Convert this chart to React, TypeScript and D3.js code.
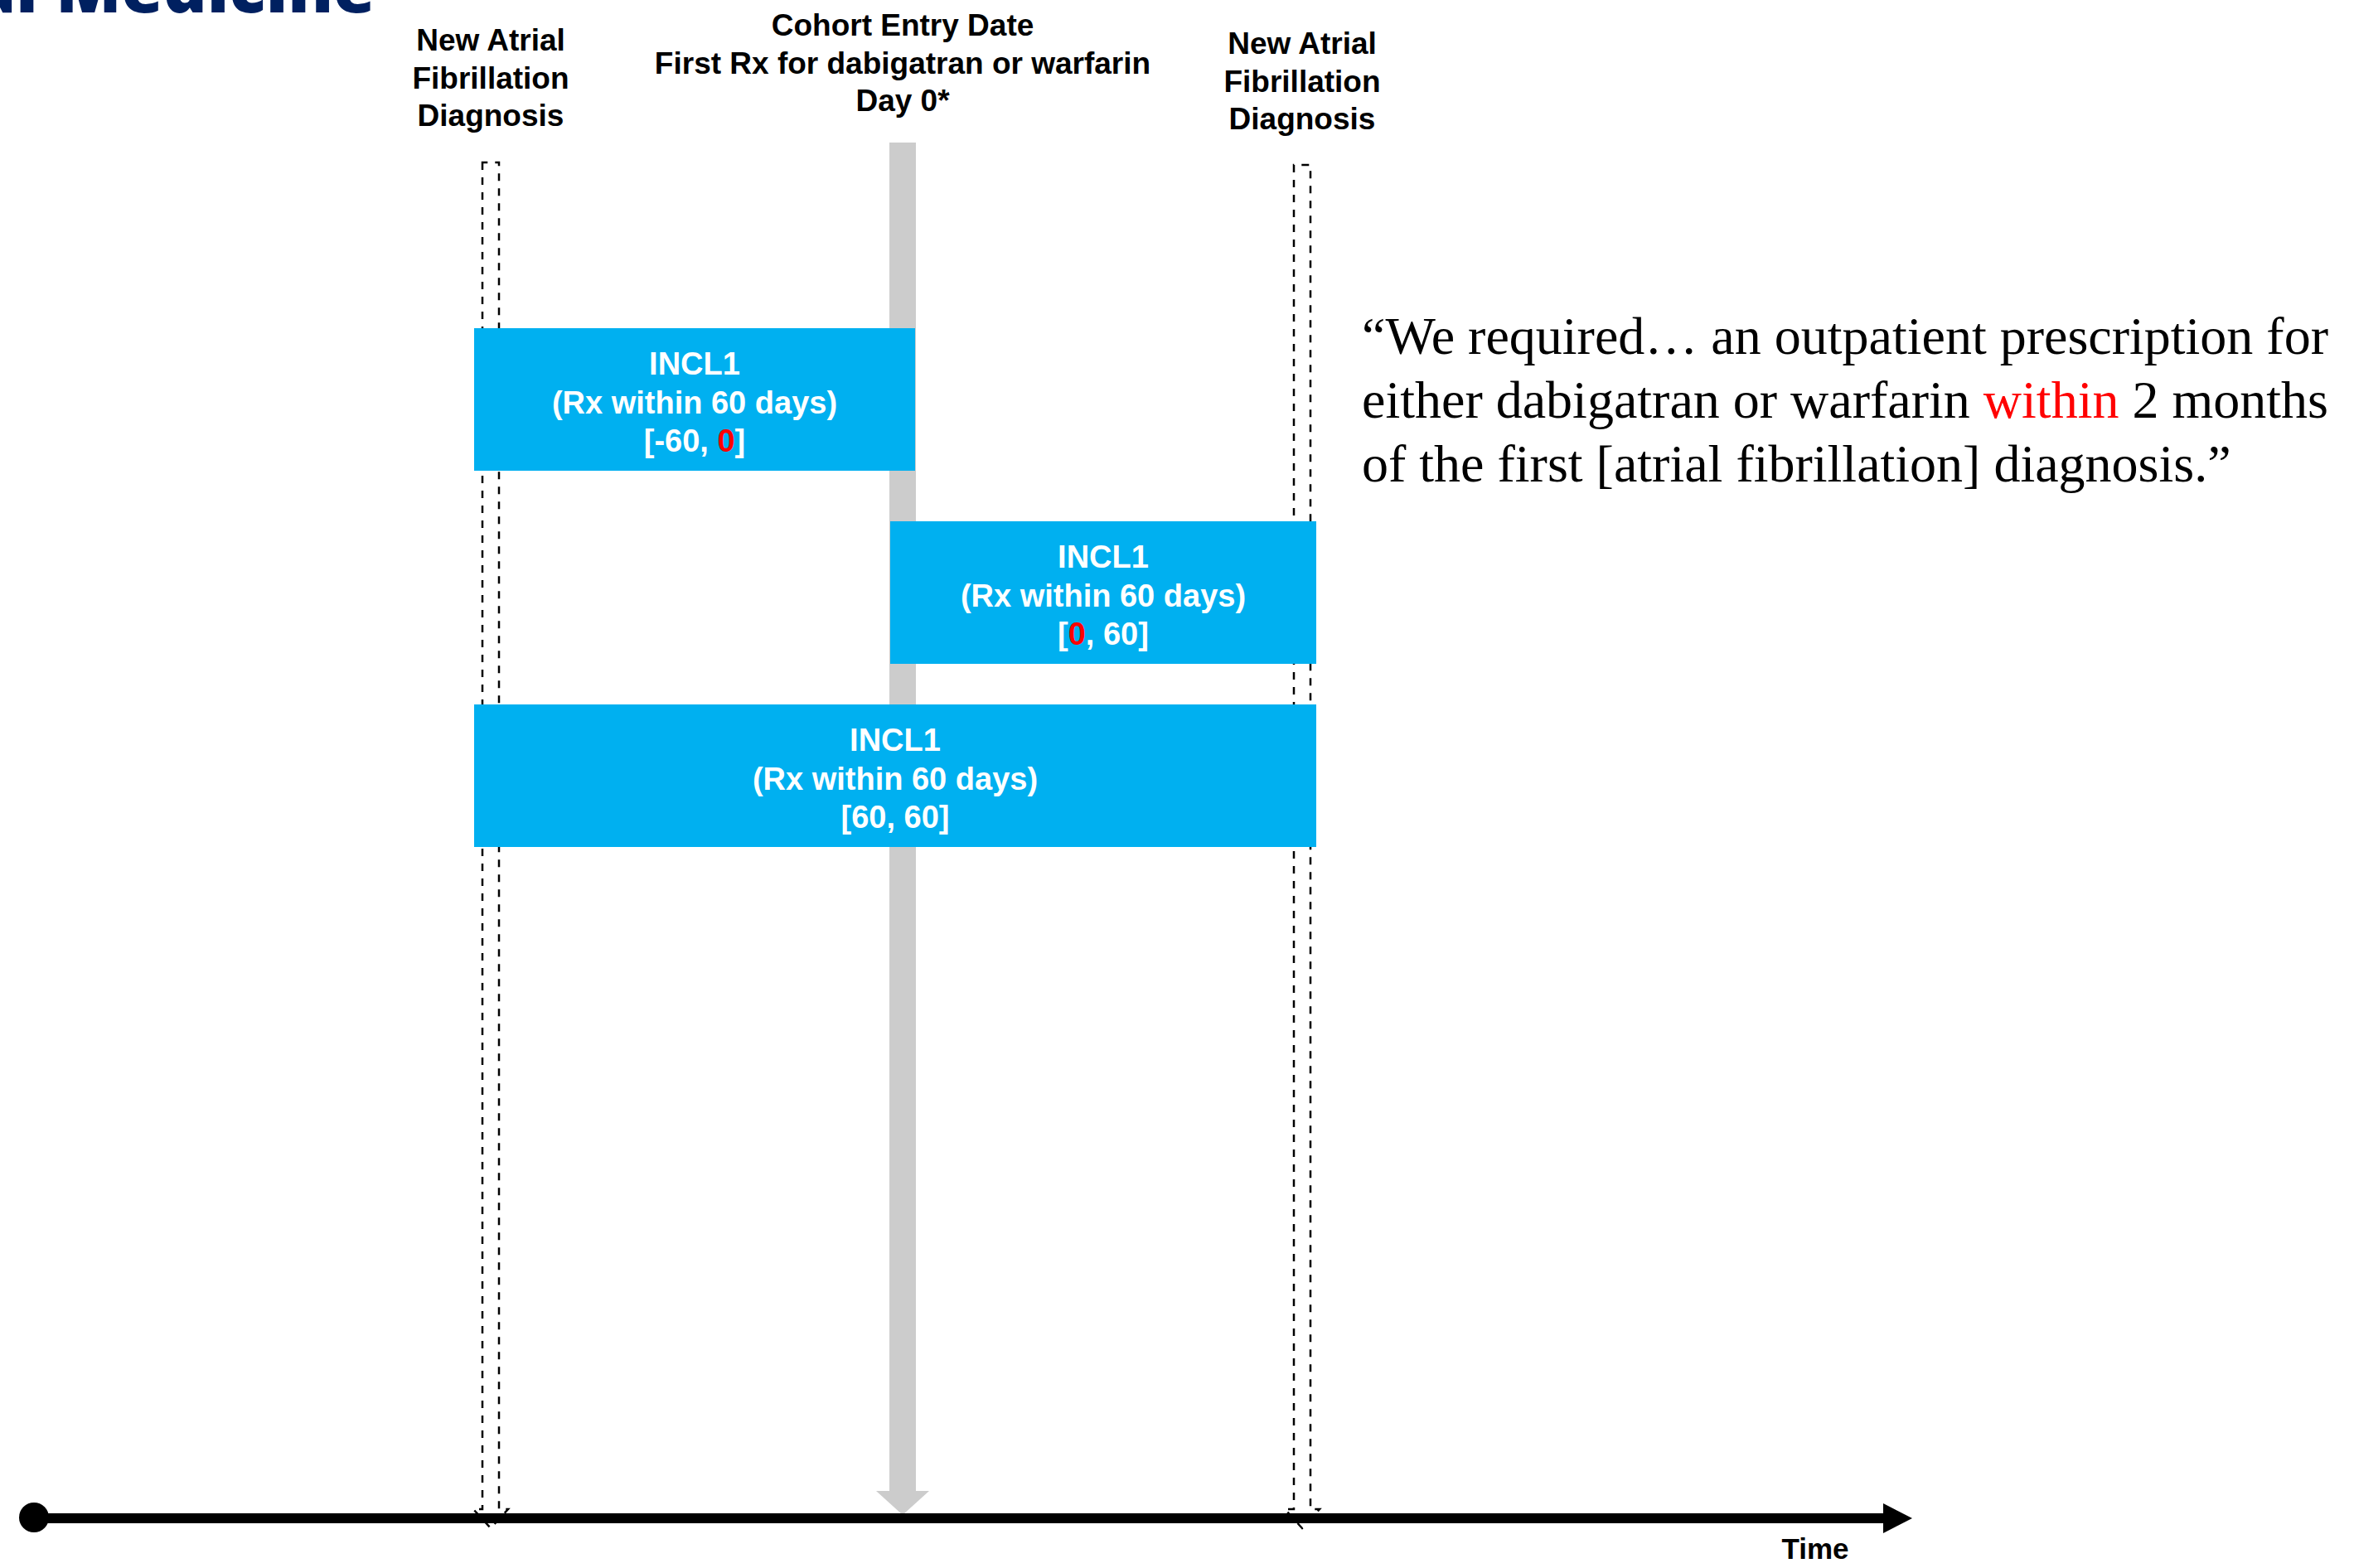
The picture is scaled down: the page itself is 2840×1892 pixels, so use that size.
import React, { useEffect } from "react";
import * as d3 from "d3";

// ---------- data ----------
const markerDays = [-60, 0, 60];
const markerKinds = ["diagnosis", "entry", "diagnosis"];
const markerLabels = [
  ["New Atrial", "Fibrillation", "Diagnosis"],
  ["Cohort Entry Date", "First Rx for dabigatran or warfarin", "Day 0*"],
  ["New Atrial", "Fibrillation", "Diagnosis"],
];

const windowStarts = [-60, 0, -60];
const windowEnds = [0, 60, 60];
const windowTitles = ["INCL1", "INCL1", "INCL1"];
const windowSubtitles = ["(Rx within 60 days)", "(Rx within 60 days)", "(Rx within 60 days)"];
const windowBounds = [
  ["-60", "0"],
  ["0", "60"],
  ["60", "60"],
];
const windowHighlight = [1, 0, -1];

const quoteLines = [
  [{ t: "\u201CWe required\u2026 an outpatient prescription for", red: false }],
  [
    { t: "either dabigatran or warfarin ", red: false },
    { t: "within", red: true },
    { t: " 2 months", red: false },
  ],
  [{ t: "of the first [atrial fibrillation] diagnosis.\u201D", red: false }],
];

const axisLabel = "Time";
const headerFragment = "JAMA Internal Medicine";

// ---------- layout ----------
const W = 2840;
const H = 1892;
const BLUE = "#00B0F0";
const GRAY = "#CCCCCC";
const RED = "#FF0000";
const NAVY = "#002060";
const SANS = "'Liberation Sans', Arial, sans-serif";
const SERIF = "'Liberation Serif', 'Times New Roman', serif";

export default function App() {
  useEffect(() => {
    document.body.style.margin = "0";
  }, []);

  const x = d3.scaleLinear().domain([-60, 0, 60]).range([592, 1089, 1571]);
  const rowY = d3.scaleLinear().domain([0, 1, 2]).range([396, 629, 850]);
  const boxH = 172;
  const padL = 20;
  const padR = 17;
  const padInner = 15;

  const labelBaseline = [61, 43, 65];
  const labelStep = 45.5;

  const axisY = 1832;
  const axisX0 = 41;
  const axisX1 = 2272;

  const line = d3.line();

  const diagTop = [196, 0, 199];

  return (
    <svg width={W} height={H} style={{ display: "block", background: "#fff" }}>
      {/* cut-off header */}
      <text
        x={453}
        y={15}
        textAnchor="end"
        fontFamily="'Open Sans', sans-serif"
        fontWeight={800}
        fontSize={82}
        fill={NAVY}
      >
        {headerFragment}
      </text>

      {/* marker labels */}
      {markerLabels.map((lines, i) => (
        <text
          key={"lab" + i}
          textAnchor="middle"
          fontFamily={SANS}
          fontWeight="bold"
          fontSize={37}
          fill="#000"
        >
          {lines.map((l, j) => (
            <tspan key={j} x={x(markerDays[i])} y={labelBaseline[i] + j * labelStep}>
              {l}
            </tspan>
          ))}
        </text>
      ))}

      {/* cohort entry gray arrow */}
      {markerDays.map((d, i) => {
        if (markerKinds[i] !== "entry") return null;
        const cx = x(d);
        const hw = 16;
        const headBase = 1799;
        const pts: [number, number][] = [
          [cx - hw, 172],
          [cx + hw, 172],
          [cx + hw, headBase],
          [cx + 32, headBase],
          [cx, 1828],
          [cx - 32, headBase],
          [cx - hw, headBase],
        ];
        return <path key={"entry" + i} d={line(pts) + "Z"} fill={GRAY} />;
      })}

      {/* dashed diagnosis arrows */}
      {markerDays.map((d, i) => {
        if (markerKinds[i] !== "diagnosis") return null;
        const cx = x(d);
        const hw = 10;
        const base = 1821;
        const pts: [number, number][] = [
          [cx - hw, diagTop[i]],
          [cx - hw, base],
          [cx - 21, base],
          [cx, 1844],
          [cx + 21, base],
          [cx + hw, base],
          [cx + hw, diagTop[i]],
        ];
        return (
          <path
            key={"diag" + i}
            d={line(pts) + "Z"}
            fill="none"
            stroke="#000"
            strokeWidth={2.5}
            strokeDasharray="9 9"
          />
        );
      })}

      {/* windows */}
      {windowStarts.map((s, i) => {
        const e = windowEnds[i];
        const x0 = x(s) - (s === -60 ? padL : padInner);
        const x1 = x(e) + (e === 60 ? padR : padInner);
        const y0 = rowY(i);
        const cx = (x0 + x1) / 2;
        const b = windowBounds[i];
        const hl = windowHighlight[i];
        return (
          <g key={"win" + i}>
            <rect x={x0} y={y0} width={x1 - x0} height={boxH} fill={BLUE} />
            <text
              textAnchor="middle"
              fontFamily={SANS}
              fontWeight="bold"
              fontSize={38}
              fill="#fff"
            >
              <tspan x={cx} y={y0 + 56}>
                {windowTitles[i]}
              </tspan>
              <tspan x={cx} y={y0 + 102.5}>
                {windowSubtitles[i]}
              </tspan>
              <tspan x={cx} y={y0 + 149}>
                [
                <tspan fill={hl === 0 ? RED : "#fff"}>{b[0]}</tspan>
                {", "}
                <tspan fill={hl === 1 ? RED : "#fff"}>{b[1]}</tspan>]
              </tspan>
            </text>
          </g>
        );
      })}

      {/* time axis */}
      <line x1={axisX0} x2={axisX1} y1={axisY} y2={axisY} stroke="#000" strokeWidth={12} />
      <circle cx={axisX0} cy={axisY - 1} r={18} fill="#000" />
      <path
        d={line([
          [axisX1, axisY - 18],
          [axisX1 + 35, axisY],
          [axisX1, axisY + 18],
        ]) + "Z"}
        fill="#000"
      />
      <text
        x={2190}
        y={1881}
        textAnchor="middle"
        fontFamily={SANS}
        fontWeight="bold"
        fontSize={35}
        fill="#000"
      >
        {axisLabel}
      </text>

      {/* quote */}
      <text fontFamily={SERIF} fontSize={64} fill="#000">
        {quoteLines.map((segs, i) => (
          <tspan key={i} x={1643} y={427 + i * 77}>
            {segs.map((s, j) => (
              <tspan key={j} fill={s.red ? RED : "#000"}>
                {s.t}
              </tspan>
            ))}
          </tspan>
        ))}
      </text>
    </svg>
  );
}
